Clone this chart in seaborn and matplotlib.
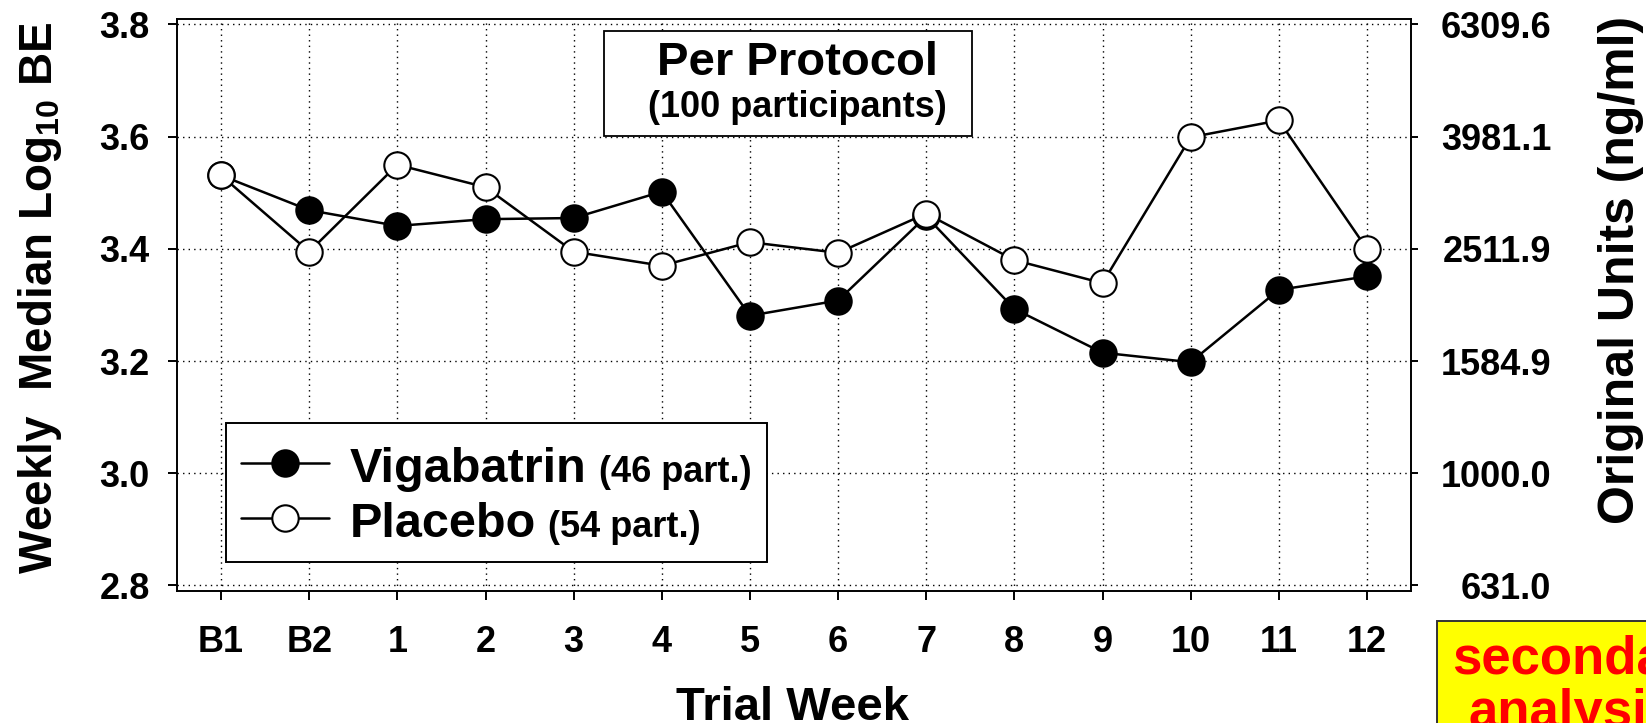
import numpy as np
import pandas as pd
import matplotlib
matplotlib.use('Agg')
import matplotlib.pyplot as plt
import seaborn as sns
from matplotlib.lines import Line2D
from matplotlib.patches import Rectangle
from matplotlib.offsetbox import AnchoredOffsetbox, HPacker, VPacker, TextArea, DrawingArea

# data
weeks = ['B1', 'B2', '1', '2', '3', '4', '5', '6', '7', '8', '9', '10', '11', '12']
vigabatrin = [3.531, 3.469, 3.441, 3.453, 3.455, 3.502, 3.281, 3.308, 3.458, 3.293, 3.215, 3.198, 3.327, 3.351]
placebo = [3.531, 3.395, 3.550, 3.510, 3.395, 3.370, 3.412, 3.393, 3.463, 3.380, 3.339, 3.599, 3.629, 3.400]
y_ticks = [2.8, 3.0, 3.2, 3.4, 3.6, 3.8]
right_labels = ['631.0', '1000.0', '1584.9', '2511.9', '3981.1', '6309.6']

sns.set_theme(style='white')
FONT = ['Liberation Sans', 'DejaVu Sans']
plt.rcParams['font.family'] = FONT
plt.rcParams['font.weight'] = 'bold'
plt.rcParams['text.color'] = 'black'
plt.rcParams['axes.labelcolor'] = 'black'
plt.rcParams['xtick.color'] = 'black'
plt.rcParams['ytick.color'] = 'black'
plt.rcParams['mathtext.fontset'] = 'custom'
plt.rcParams['mathtext.rm'] = 'Liberation Sans:bold'
plt.rcParams['mathtext.bf'] = 'Liberation Sans:bold'
plt.rcParams['mathtext.it'] = 'Liberation Sans:bold'

W, H = 1646, 723
fig = plt.figure(figsize=(W / 100, H / 100), dpi=100)
# axes box in pixels: left 177, right 1411, top 19, bottom 590.7
ax = fig.add_axes([177 / W, 1 - 590.7 / H, (1411 - 177) / W, (590.7 - 19) / H])

df = pd.DataFrame({
    'week': weeks * 2,
    'value': vigabatrin + placebo,
    'group': ['Vigabatrin'] * len(weeks) + ['Placebo'] * len(weeks),
})

line_kw = dict(color='black', marker='o', markersize=19, markeredgecolor='black',
               markeredgewidth=1.5, linewidth=1.8, sort=False, legend=False, ax=ax)
sns.lineplot(data=df[df.group == 'Vigabatrin'], x='week', y='value',
             markerfacecolor='black', zorder=3, **line_kw)
sns.lineplot(data=df[df.group == 'Placebo'], x='week', y='value',
             markerfacecolor='white', zorder=3.5, **line_kw)

ylim = (2.7907, 3.8098)
ax.set_xlim(-0.5, len(weeks) - 0.5)
ax.set_ylim(*ylim)
ax.set_yticks(y_ticks)
ax.set_yticklabels([f'{v:.1f}' for v in y_ticks])
ax.set_xlabel('')
ax.set_ylabel('')
ax.set_axisbelow(True)
ax.grid(True, color='black', linestyle=(0, (1, 3)), linewidth=1.0)
for s in ax.spines.values():
    s.set_visible(True)
    s.set_color('black')
    s.set_linewidth(1.4)
ax.tick_params(axis='both', direction='out', length=6.5, width=1.4, labelsize=26,
               colors='black', bottom=True, left=True)
ax.tick_params(axis='x', pad=18)
ax.tick_params(axis='y', pad=13)

# right axis in original units
ax2 = ax.twinx()
ax2.set_ylim(*ylim)
ax2.set_yticks(y_ticks)
ax2.set_yticklabels(right_labels, ha='right')
ax2.grid(False)
ax2.tick_params(axis='y', direction='out', length=5, width=1.4, labelsize=26,
                pad=96, colors='black', right=True)
for s in ax2.spines.values():
    s.set_visible(False)

# axis titles
fig.text(40 / W, 1 - 298 / H, r'Weekly  Median Log$_{10}$ BE', rotation=90,
         ha='center', va='center', fontsize=33, fontweight='bold')
fig.text(1621 / W, 1 - 270 / H, 'Original Units (ng/ml)', rotation=90,
         ha='center', va='center', fontsize=36, fontweight='bold')
fig.text(792.5 / W, 3 / H, 'Trial Week', ha='center', va='baseline',
         fontsize=34, fontweight='bold')

# "Per Protocol" box
ax.add_patch(Rectangle((0.346, 0.795), 0.2982, 0.184, transform=ax.transAxes,
                       facecolor='white', edgecolor='black', linewidth=1.3, zorder=4))
ax.text(0.503, 0.902, 'Per Protocol', transform=ax.transAxes, ha='center',
        va='baseline', fontsize=34, fontweight='bold', zorder=5)
ax.text(0.503, 0.8286, '(100 participants)', transform=ax.transAxes, ha='center',
        va='baseline', fontsize=26, fontweight='bold', zorder=5)


# legend with two text sizes per entry
def legend_row(face, name, count):
    da = DrawingArea(63, 27, 0, 0)
    da.add_artist(Line2D([0, 63], [13.7, 13.7], color='black', lw=1.8))
    da.add_artist(Line2D([31.5], [13.7], marker='o', ms=19, mfc=face,
                         mec='black', mew=1.5, lw=0))
    t1 = TextArea(name, textprops=dict(size=35, weight='bold', family=FONT, color='black'))
    t2 = TextArea(count, textprops=dict(size=26, weight='bold', family=FONT, color='black'))
    txt = HPacker(children=[t1, t2], align='baseline', sep=9, pad=0)
    return HPacker(children=[da, txt], align='baseline', sep=15, pad=0)


rows = VPacker(children=[legend_row('black', 'Vigabatrin', '(46 part.)'),
                         legend_row('white', 'Placebo', '(54 part.)')],
               align='left', sep=5, pad=0)
content = VPacker(children=[DrawingArea(1, 5), rows], align='left', sep=0, pad=0)
leg = AnchoredOffsetbox(loc='lower left', child=content, pad=1.1, borderpad=0,
                        frameon=True, bbox_to_anchor=(0.0397, 0.0502),
                        bbox_transform=ax.transAxes, prop=dict(size=10))
leg.patch.set_edgecolor('black')
leg.patch.set_linewidth(1.4)
leg.patch.set_facecolor('white')
leg.set_zorder(5)
ax.add_artist(leg)

# yellow note box at bottom right (runs off the canvas)
fig.patches.append(Rectangle((1437 / W, -0.1), 0.2, (723 - 621) / H + 0.1,
                             transform=fig.transFigure, facecolor='#FFFF00',
                             edgecolor='#333333', linewidth=1.4))
fig.text(1452 / W, 1 - 674 / H, 'secondary', ha='left', va='baseline',
         fontsize=38, fontweight='bold', color='#FF0000')
fig.text(1468 / W, 1 - 727 / H, 'analysis', ha='left', va='baseline',
         fontsize=38, fontweight='bold', color='#FF0000')

fig.savefig('out.png', dpi=100)
